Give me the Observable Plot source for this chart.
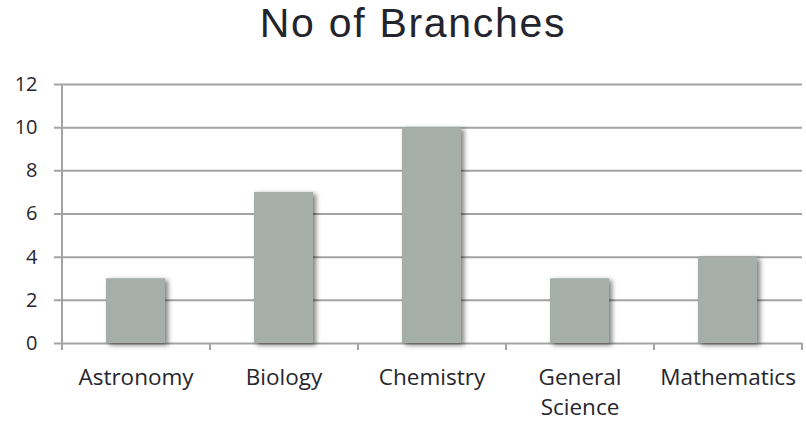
<!DOCTYPE html>
<html>
<head>
<meta charset="utf-8">
<script src="https://cdn.jsdelivr.net/npm/d3@7"></script>
<script src="https://cdn.jsdelivr.net/npm/@observablehq/plot@0.6"></script>
<style>
  html, body { margin: 0; padding: 0; background: #fff; }
  #wrap { width: 806px; height: 426px; position: relative; overflow: hidden; }
  #title { height: 70px; box-sizing: border-box; padding-top: 0px; padding-left: 20px;
    text-align: center; font-family: "Liberation Sans", Arial, sans-serif; font-size: 41px;
    letter-spacing: 1.7px; line-height: 47px; color: #24242c; }
  #chart svg { display: block; }
</style>
</head>
<body>
<div id="wrap">
  <div id="title">No of Branches</div>
  <div id="chart"></div>
</div>
<script>
const categories = ["Astronomy", "Biology", "Chemistry", "General Science", "Mathematics"];
const values = [3, 7, 10, 3, 4];
const yTicks = [0, 2, 4, 6, 8, 10, 12];
const tickLabels = {"General Science": "General\nScience"};

const data = categories.map((c, i) => ({category: c, value: values[i]}));

const W = 806, H = 356, ML = 62, MR = 4, MT = 14, MB = 83;
const step = (W - ML - MR) / categories.length;
const gray = "#a3a3a3";

const chart = Plot.plot({
  width: W,
  height: H,
  marginLeft: ML,
  marginRight: MR,
  marginTop: MT,
  marginBottom: MB,
  style: {background: "#fff", overflow: "visible"},
  x: {domain: categories, paddingInner: 0.6, paddingOuter: 0.3, label: null},
  y: {domain: [0, 12], label: null},
  marks: [
    Plot.ruleY(yTicks, {y: d => d, stroke: gray, strokeWidth: 2, insetLeft: -8}),
    Plot.ruleX([categories[0]], {x: d => d, y1: -0.33, y2: 12, dx: -step / 2, stroke: gray, strokeWidth: 2}),
    Plot.ruleX(categories, {x: d => d, y1: -0.33, y2: 0, dx: step / 2, stroke: gray, strokeWidth: 2}),
    Plot.barY(data, {x: "category", y: "value", fill: "#a5aea8"}),
    Plot.axisY({ticks: yTicks, tickSize: 0, tickPadding: 25, fontSize: 20,
      fontFamily: "Open Sans", fill: "#26262e", label: null}),
    Plot.axisX({tickSize: 0, tickPadding: 21, fontSize: 22.5, fontFamily: "Open Sans",
      fill: "#26262e", lineHeight: 1.3, label: null,
      tickFormat: d => tickLabels[d] ?? d})
  ]
});

chart.querySelectorAll('g[aria-label="bar"] rect').forEach(r => {
  r.style.filter = "drop-shadow(3px 2px 2.5px rgba(0,0,0,0.5))";
});

document.getElementById("chart").appendChild(chart);
</script>
</body>
</html>
